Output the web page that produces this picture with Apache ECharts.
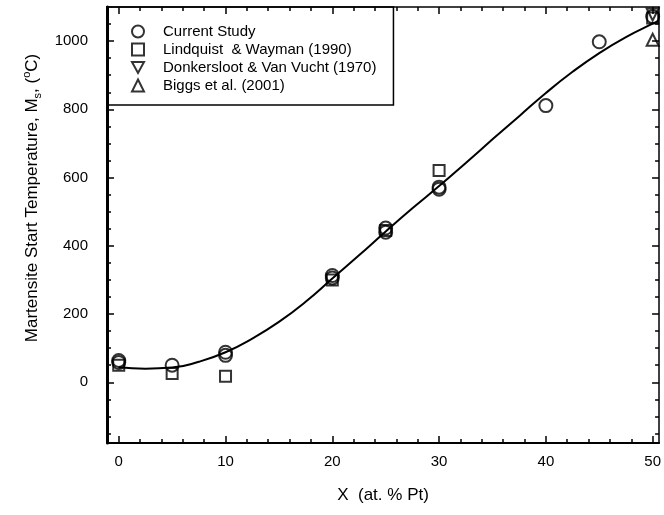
<!DOCTYPE html>
<html>
<head>
<meta charset="utf-8">
<script src="https://cdn.jsdelivr.net/npm/echarts@6.0.0/dist/echarts.min.js"></script>
<style>
  html, body { margin: 0; padding: 0; background: #fff; }
  #chart { width: 664px; height: 515px; }
</style>
</head>
<body>
<div id="chart"></div>
<script>
// values
var currentX = [0, 0, 5, 10, 10, 20, 20, 25, 25, 30, 30, 40, 45, 50];
var currentY = [64, 58, 50, 88, 79, 313, 306, 452, 440, 572, 566, 811, 998, 1072];
var lindquistX = [0, 5, 10, 20, 25, 30, 50];
var lindquistY = [50, 26, 18, 300, 445, 621, 1068];
var donkersX = [50];
var donkersY = [1078];
var biggsX = [50];
var biggsY = [1004];

// fitted curve
var fitX = [0, 2.5, 5, 7.5, 10, 12.5, 15, 17.5, 20, 22.5, 25, 27.5, 30, 32.5, 35, 37.5, 40, 42.5, 45, 47.5, 50, 50.5];
var fitY = [44, 40, 43, 60, 88, 128, 177, 236, 304, 372, 442, 510, 575, 643, 712, 780, 848, 910, 965, 1012, 1051, 1058];

var xMajor = [0, 10, 20, 30, 40, 50];
var yMajor = [0, 200, 400, 600, 800, 1000];
var xMinor = [];
for (var i = 2; i < 50; i += 2) { if (i % 10 != 0) xMinor.push(i); }
var yMinor = [];
for (var j = -150; j <= 1050; j += 50) { if (j % 200 != 0) yMinor.push(j); }

var xMin = -1.1, xMax = 50.6;
var yMin = -178, yMax = 1100;

function pairs(xs, ys) {
  var out = [];
  for (var k = 0; k < xs.length; k++) out.push([xs[k], ys[k]]);
  return out;
}

var font = 'Liberation Sans, Arial, sans-serif';
var downTriangle = 'path://M0,0L10,0L5,9Z';

function plain(v) { return String(v); }

function xAx(pos, ticks, len, lineW, withLabel) {
  return {
    type: 'value', position: pos, min: xMin, max: xMax,
    splitLine: { show: false },
    axisLine: { show: lineW > 0, onZero: false, lineStyle: { color: '#000', width: lineW } },
    axisTick: { inside: true, length: len, customValues: ticks, lineStyle: { color: '#000', width: 1.5 } },
    axisLabel: withLabel ? { customValues: ticks, formatter: plain, color: '#000', fontSize: 15, fontFamily: font, margin: 11 } : { show: false }
  };
}
function yAx(pos, ticks, len, lineW, withLabel) {
  return {
    type: 'value', position: pos, min: yMin, max: yMax,
    splitLine: { show: false },
    axisLine: { show: lineW > 0, onZero: false, lineStyle: { color: '#000', width: lineW } },
    axisTick: { inside: true, length: len, customValues: ticks, lineStyle: { color: '#000', width: 1.5 } },
    axisLabel: withLabel ? { customValues: ticks, formatter: plain, color: '#000', fontSize: 15, fontFamily: font, margin: 19 } : { show: false }
  };
}

var xAxes = [
  xAx('bottom', xMajor, 7, 2, true),
  xAx('bottom', xMinor, 4, 0, false),
  xAx('top', xMajor, 7, 1.5, false),
  xAx('top', xMinor, 4, 0, false)
];
xAxes[0].name = 'X  (at. % Pt)';
xAxes[0].nameLocation = 'middle';
xAxes[0].nameGap = 44;
xAxes[0].nameTextStyle = { color: '#000', fontSize: 17, fontFamily: font };

var yAxes = [
  yAx('left', yMajor, 7, 3, true),
  yAx('left', yMinor, 4, 0, false),
  yAx('right', yMajor, 7, 1.5, false),
  yAx('right', yMinor, 4, 0, false)
];
yAxes[0].name = 'Martensite Start Temperature, M{sub|s}, ({sup|o}C)';
yAxes[0].nameLocation = 'middle';
yAxes[0].nameGap = 63;
yAxes[0].nameTextStyle = {
  color: '#000', fontSize: 17, fontFamily: font, lineHeight: 22,
  padding: [0, 0, 0, 54],
  rich: {
    sub: { fontSize: 11, fontFamily: font, color: '#000', verticalAlign: 'bottom', lineHeight: 11 },
    sup: { fontSize: 11, fontFamily: font, color: '#000', verticalAlign: 'top', lineHeight: 11 }
  }
};

var markStyle = { color: 'rgba(0,0,0,0)', borderColor: '#000', borderWidth: 2 };

var chart = echarts.init(document.getElementById('chart'));
chart.setOption({
  backgroundColor: '#fff',
  animation: false,
  grid: { left: 107, right: 1, top: 7, bottom: 72 },
  legend: {
    data: ['Current Study', 'Lindquist  & Wayman (1990)', 'Donkersloot & Van Vucht (1970)', 'Biggs et al. (2001)'],
    orient: 'vertical', left: 107, top: 7,
    padding: [17, 17, 12, 24],
    itemWidth: 12, itemHeight: 12, itemGap: 3,
    borderColor: '#000', borderWidth: 1.5,
    textStyle: { color: '#000', fontSize: 15, fontFamily: font, lineHeight: 15, padding: [0, 0, 0, 14] }
  },
  xAxis: xAxes,
  yAxis: yAxes,
  series: [
    {
      name: 'fit', type: 'line', smooth: true, showSymbol: false, z: 1,
      lineStyle: { color: '#000', width: 2 },
      data: pairs(fitX, fitY)
    },
    {
      name: 'Current Study', type: 'scatter', symbol: 'circle', symbolSize: 13,
      itemStyle: markStyle, data: pairs(currentX, currentY)
    },
    {
      name: 'Lindquist  & Wayman (1990)', type: 'scatter', symbol: 'rect', symbolSize: 11,
      itemStyle: markStyle, data: pairs(lindquistX, lindquistY)
    },
    {
      name: 'Donkersloot & Van Vucht (1970)', type: 'scatter', symbol: downTriangle, symbolSize: 12,
      itemStyle: markStyle, data: pairs(donkersX, donkersY)
    },
    {
      name: 'Biggs et al. (2001)', type: 'scatter', symbol: 'triangle', symbolSize: 12,
      itemStyle: markStyle, data: pairs(biggsX, biggsY)
    }
  ]
});
</script>
</body>
</html>
